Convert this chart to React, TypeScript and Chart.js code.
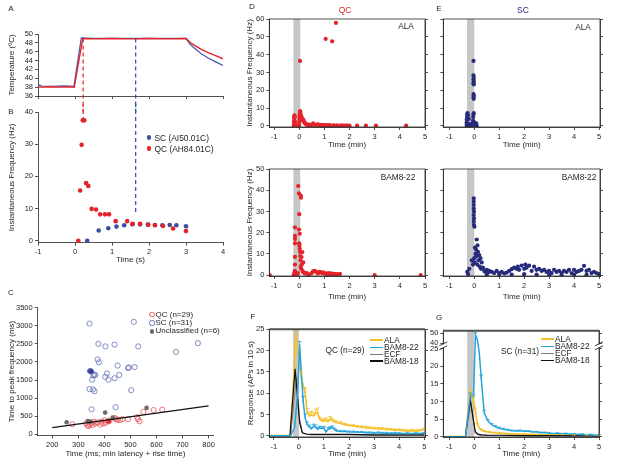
import React, { useEffect, useRef } from 'react';
import { Chart, registerables, LinearScale } from 'chart.js';

Chart.register(...registerables);

const FONT = "'Liberation Sans', Arial, Helvetica, sans-serif";
const INK = '#262626';
const RED = '#e4232b';
const NAVY = '#272b7b';
const BBLUE = '#3a4fa0';
const YEL = '#f3c12c';
const LBLUE = '#27a4dc';
const ECFG = '#7a7a7a';
const BLK = '#111111';
const BAND = '#c6c6c6';

type Pt = [number, number];

// ---------------- Panel A: temperature ----------------
const tempTimeRed = [-1, -0.7, -0.4, -0.1, -0.02, 0.21, 0.5, 1.0, 1.5, 2.0, 2.5, 3.0, 3.1, 3.2, 3.4, 3.6, 3.8, 4.0];
const tempRed = [38.0, 38.1, 38.0, 38.1, 38.0, 49.0, 48.9, 49.0, 48.9, 49.0, 48.9, 49.0, 48.2, 47.6, 46.6, 45.8, 45.1, 44.4];
const tempTimeBlue = [-1, -0.95, -0.9, -0.6, -0.3, -0.03, 0.17, 0.5, 1.0, 1.5, 2.0, 2.5, 3.0, 3.1, 3.2, 3.4, 3.6, 3.8, 4.0];
const tempBlue = [38.2, 38.5, 38.2, 38.2, 38.3, 38.2, 49.1, 49.0, 49.0, 49.0, 49.0, 49.0, 49.0, 47.8, 47.0, 45.6, 44.6, 43.7, 42.9];
const qcPeakTime = 0.22;
const scPeakTime = 1.64;
const dashTempLevels = [49, 32.4];

// ---------------- Panel B: instantaneous frequency ----------------
const bQC: Pt[] = [
  [0.09, 0], [0.14, 15.6], [0.18, 29.8], [0.21, 37.4], [0.25, 37.4], [0.3, 17.9], [0.36, 17.0],
  [0.45, 9.9], [0.57, 9.7], [0.68, 8.2], [0.81, 8.2], [0.92, 8.2], [1.1, 6.1], [1.41, 6.1],
  [1.56, 5.3], [1.76, 5.3], [1.98, 5.0], [2.16, 4.8], [2.38, 4.6], [2.65, 3.8], [3.0, 3.0],
];
const bSC: Pt[] = [
  [0.33, 0], [0.64, 3.2], [0.9, 3.9], [1.12, 4.4], [1.33, 4.8], [1.55, 5.1], [1.76, 5.1],
  [1.97, 5.0], [2.16, 4.9], [2.36, 4.8], [2.56, 4.9], [2.74, 4.8], [3.0, 4.5],
];
const dashQCFreq = [45, 37.4];
const dashSCFreq = [45, 8];

// ---------------- Panel C: time to peak ----------------
const cQC: Pt[] = [
  [277, 280], [330, 300], [335, 250], [340, 230], [345, 280], [350, 320], [355, 260], [360, 350],
  [365, 300], [375, 330], [385, 270], [390, 350], [395, 300], [405, 320], [416, 360], [420, 380],
  [445, 420], [450, 400], [460, 390], [470, 420], [491, 420], [526, 470], [529, 420], [535, 360],
  [550, 620], [589, 670], [622, 680], [440, 450], [400, 390],
];
const cQCFilled = [14];
const cSC: Pt[] = [
  [343, 3060], [513, 3110], [377, 2500], [404, 2430], [439, 2480], [530, 2430], [759, 2520], [675, 2280],
  [374, 2070], [379, 1990], [345, 1750], [361, 1650], [357, 1630], [353, 1510], [403, 1590], [410, 1680],
  [416, 1510], [439, 1550], [457, 1640], [451, 1900], [491, 1830], [494, 1850], [516, 1860], [343, 1250],
  [356, 1240], [362, 1190], [503, 1220], [351, 690], [443, 750], [349, 1740], [365, 1640],
];
const cSCFilled = [10, 29];
const cUnclassified: Pt[] = [[255, 335], [336, 370], [403, 600], [432, 460], [562, 730], [345, 350]];
const cFitLine: Pt[] = [[200, 185], [800, 787]];

// ---------------- Panel D: QC instantaneous frequency ----------------
const dAlaQC: Pt[] = [
  [-0.22, 0], [-0.21, 1.2], [-0.21, 2.6], [-0.2, 4], [-0.2, 5.3], [-0.19, 6], [-0.18, 4.8], [-0.17, 2.5],
  [-0.16, 1], [-0.14, 0.3], [-0.12, 0], [0, 0.5], [0, 2], [0.01, 3.5], [0.01, 5], [0.02, 6.5], [0.03, 7.8],
  [0.04, 8.3], [0.05, 7.2], [0.06, 6], [0.08, 5.5], [0.1, 4.6], [0.12, 3.8], [0.14, 3.2], [0.16, 3.5],
  [0.18, 2.6], [0.2, 2], [0.22, 1.6], [0.25, 1.3], [0.28, 1], [0.3, 0.7], [0.35, 0.5], [0.4, 0.8],
  [0.45, 0.4], [0.5, 0.5], [0.55, 1.4], [0.6, 0.8], [0.65, 0.5], [0.7, 0.7], [0.75, 0.9], [0.8, 0.5],
  [0.85, 0.3], [0.9, 0.6], [0.95, 0.3], [1.0, 0.5], [1.1, 0.4], [1.15, 0.2], [1.2, 0.4], [1.25, 0.2],
  [1.35, 0.3], [1.4, 0.2], [1.5, 0.3], [1.6, 0.2], [1.7, 0.3], [1.8, 0.2], [1.9, 0.3], [2.0, 0.2],
  [2.3, 0.2], [2.65, 0.2], [3.05, 0.2], [4.25, 0.2], [0.03, 36.5], [1.05, 48.8], [1.31, 47.5], [1.46, 57.8],
];
const dBamQC: Pt[] = [
  [-1.17, 0], [-0.22, 0], [-0.2, 0.5], [-0.19, 1], [-0.18, 2], [-0.17, 5], [-0.17, 8.6], [-0.17, 15],
  [-0.17, 17], [-0.17, 18.5], [-0.17, 22.5], [-0.16, 1.5], [-0.15, 0.5], [-0.1, 0.5], [-0.05, 1],
  [-0.04, 42], [-0.01, 38.5], [0.06, 37.5], [0.07, 36.5], [0, 28.7], [-0.01, 21.5], [0.02, 19.5], [0, 15],
  [0.01, 14], [0.02, 12.5], [0.03, 11], [0.12, 10.8], [0.04, 9], [0.09, 8.5], [0.05, 7], [0.16, 6],
  [0.1, 5], [0.06, 4], [0.08, 3], [0.13, 2], [0.15, 1.5], [0.2, 1], [0.25, 0.8], [0.3, 1], [0.35, 0.5],
  [0.4, 0.3], [0.5, 1], [0.55, 1.8], [0.6, 2], [0.65, 1.8], [0.7, 1.2], [0.75, 0.8], [0.8, 1.6],
  [0.85, 1.4], [0.9, 1], [0.95, 1.3], [1.0, 0.8], [1.05, 0.6], [1.1, 0.8], [1.15, 0.5], [1.2, 1],
  [1.25, 0.6], [1.3, 0.7], [1.35, 0.5], [1.4, 0.6], [1.45, 0.4], [1.5, 0.5], [1.55, 0.3], [1.62, 0.6],
  [3.0, 0], [4.83, 0],
];

// ---------------- Panel E: SC instantaneous frequency ----------------
const eAlaSC: Pt[] = [
  [-0.3, 0], [-0.3, 1], [-0.3, 2], [-0.3, 3.5], [-0.29, 5], [-0.28, 6.5], [-0.27, 7.2], [-0.25, 6],
  [-0.22, 4], [-0.2, 1], [-0.18, 0], [-0.15, 0.5], [-0.1, 0], [-0.07, 1.5], [-0.05, 3], [-0.04, 5],
  [-0.03, 6.5], [-0.02, 7.2], [-0.03, 36.5], [-0.03, 28.4], [-0.02, 27], [-0.03, 26], [-0.02, 25],
  [-0.03, 24], [-0.02, 23.3], [-0.03, 17.9], [-0.02, 17], [-0.03, 16], [-0.02, 15.2], [0, 2], [0.02, 1],
  [0.05, 0.5], [0.08, 1.5], [0.1, 0],
];
const eBamSC: Pt[] = [
  [-0.02, 36.2], [-0.02, 34.6], [-0.02, 33], [-0.02, 31.4], [-0.01, 29.9], [-0.02, 28.3], [-0.01, 26.7],
  [-0.02, 25.2], [-0.01, 23.6], [0.01, 22.8], [0.1, 16.8], [0.13, 14], [0.07, 12], [0.03, 13], [0.15, 11],
  [0.2, 9.5], [0.05, 10], [0.1, 9], [0, 8], [0.02, 6], [-0.05, 5], [-0.1, 7], [-0.2, 3], [-0.28, 1.5],
  [-0.25, 0.5], [0.25, 8], [0.3, 6], [0.17, 7], [0.12, 5], [0.22, 4], [0.27, 3], [0.35, 3.5], [0.4, 2],
  [0.45, 1.5], [0.5, 2.5], [0.55, 1.2], [0.6, 2], [0.7, 1.5], [0.8, 1], [0.9, 2], [1.0, 1], [1.1, 1.5],
  [1.2, 0.8], [1.3, 1.2], [1.4, 2], [1.5, 2.8], [1.6, 3.5], [1.7, 3], [1.75, 4], [1.8, 2.5], [1.9, 4.5],
  [2.0, 3], [2.05, 5], [2.1, 3.5], [2.2, 4.5], [2.3, 2], [2.4, 4], [2.5, 2.5], [2.6, 3], [2.7, 2],
  [2.8, 2.5], [2.9, 1.5], [3.0, 2], [3.1, 1], [3.2, 2.5], [3.3, 1.5], [3.4, 2], [3.5, 1], [3.6, 2],
  [3.7, 1.5], [3.8, 2.5], [3.9, 1], [4.0, 2.5], [4.1, 1.5], [4.2, 2], [4.3, 2.5], [4.4, 4.4], [4.5, 2],
  [4.6, 2.5], [4.7, 1], [4.8, 1.5], [4.9, 1], [5.0, 0.5], [0.5, 0], [1.0, 0.2], [1.5, 0.3], [2.0, 0.5],
  [2.5, 0.3], [3.0, 0.2], [3.5, 0.2], [4.0, 0.3], [4.5, 0.2],
];

// ---------------- Panel F: QC responses (APs in 10 s) ----------------
const fAlaT = [-1.18, -0.33, -0.12, 0.08, 0.25, 0.33, 0.42, 0.5, 0.58, 0.67, 0.75, 0.83, 0.92, 1.0, 1.08, 1.17, 1.25, 1.33, 1.42, 1.5, 1.67, 1.83, 2, 2.17, 2.33, 2.5, 2.67, 2.83, 3, 3.17, 3.33, 3.5, 3.67, 3.83, 4, 4.17, 4.33, 4.5, 4.67, 4.83, 5];
const fAla = [0, 0, 24, 14, 10, 5.5, 4.6, 4.9, 4.7, 5.3, 5.4, 3.8, 3.5, 3.4, 3.6, 3.3, 3.9, 3.6, 3.2, 3.1, 2.9, 2.6, 2.4, 2.3, 2.1, 2.0, 1.9, 1.8, 1.7, 1.6, 1.6, 1.5, 1.4, 1.3, 1.3, 1.2, 1.1, 1.2, 1.1, 1.2, 1.5];
const fAlaErr = [0, 0, 0.6, 1, 1.3, 0.9, 0.8, 0.8, 0.8, 0.9, 1.1, 0.6, 0.5, 0.5, 0.6, 0.5, 0.6, 0.5, 0.4, 0.4, 0.4, 0.3, 0.3, 0.3, 0.3, 0.3, 0.3, 0.3, 0.3, 0.3, 0.3, 0.3, 0.3, 0.3, 0.3, 0.3, 0.3, 0.3, 0.3, 0.3, 0.3];
const fBamT = [-1.18, -0.33, -0.17, -0.05, 0.03, 0.17, 0.25, 0.33, 0.42, 0.5, 0.58, 0.67, 0.75, 0.83, 0.92, 1.0, 1.08, 1.17, 1.25, 1.33, 1.42, 1.5, 1.67, 1.83, 2, 2.17, 2.33, 2.5, 2.67, 2.83, 3, 3.17, 3.33, 3.5, 3.67, 3.83, 4, 4.33, 4.67, 5];
const fBam = [0, 0, 2, 10, 21.5, 8, 4.2, 2.6, 2.0, 1.6, 2.2, 2.0, 1.5, 1.8, 1.7, 1.8, 0.9, 1.5, 1.7, 1.9, 1.5, 1.1, 1.0, 1.0, 0.9, 0.9, 0.8, 0.8, 0.7, 0.7, 0.6, 0.7, 0.6, 0.6, 0.5, 0.6, 0.5, 0.5, 0.5, 0.6];
const fBamErr = [0, 0, 0, 0, 0.6, 1.2, 0.9, 0.6, 0.5, 0.4, 0.5, 0.5, 0.4, 0.4, 0.4, 0.4, 0.3, 0.4, 0.4, 0.4, 0.3, 0.3, 0.2, 0.2, 0.2, 0.2, 0.2, 0.2, 0.2, 0.2, 0.2, 0.2, 0.2, 0.2, 0.2, 0.2, 0.2, 0.2, 0.2, 0.2];
const fEcfT = [-1.18, -0.33, -0.1, 0.03, 0.14, 0.3, 0.5, 1, 2, 3, 4, 5];
const fEcf = [0, 0, 13.7, 4, 0.6, 0.3, 0.2, 0.2, 0.2, 0.1, 0.1, 0.1];
const fB18T = [-1.18, -0.36, -0.15, 0.03, 0.14, 0.3, 0.5, 1, 2, 3, 4, 5];
const fB18 = [0, 0, 15.7, 3, 0.7, 0.4, 0.3, 0.3, 0.3, 0.2, 0.2, 0.2];

// ---------------- Panel G: SC responses ----------------
const gBamT = [-1.24, -0.35, -0.16, -0.03, 0.05, 0.13, 0.2, 0.28, 0.4, 0.55, 0.7, 0.85, 1.0, 1.17, 1.33, 1.5, 1.67, 1.83, 2, 2.17, 2.33, 2.5, 2.67, 2.83, 3, 3.33, 3.67, 4, 4.33, 4.67, 5];
const gBam = [0, 0, 11.6, 11.2, 48.5, 43, 24, 16.6, 6.8, 4.4, 3.4, 2.8, 2.4, 2.1, 1.9, 1.7, 1.6, 1.7, 1.5, 1.5, 1.3, 1.3, 1.1, 1.1, 1.0, 0.9, 0.8, 0.7, 0.6, 0.5, 0.4];
const gBamErr = [0, 0, 0.8, 0.6, 2, 0, 0, 0.9, 0.7, 0.4, 0.3, 0.3, 0.3, 0.3, 0.2, 0.2, 0.2, 0.2, 0.2, 0.2, 0.2, 0.2, 0.2, 0.2, 0.2, 0.2, 0.2, 0.2, 0.2, 0.2, 0.2];
const gAlaT = [-1.24, -0.35, -0.16, -0.05, 0.04, 0.13, 0.25, 0.4, 0.6, 0.8, 1, 1.5, 2, 2.5, 3, 3.5, 4, 4.5, 5];
const gAla = [0, 0, 12.8, 10.9, 7.6, 3.3, 2.0, 1.5, 1.3, 1.1, 1.0, 0.8, 0.7, 0.6, 0.5, 0.5, 0.4, 0.4, 0.3];
const gAlaErr = [0, 0, 0.8, 0.6, 0.5, 0.4, 0.3, 0.2, 0.2, 0.2, 0.2, 0.1, 0.1, 0.1, 0.1, 0.1, 0.1, 0.1, 0.1];
const gEcfT = [-1.24, -0.35, -0.14, 0.04, 0.15, 0.3, 0.6, 1, 2, 3, 4, 5];
const gEcf = [0, 0, 9.9, 1.0, 0.5, 0.4, 0.3, 0.3, 0.2, 0.2, 0.2, 0.2];
const gB18T = [-1.24, -0.35, -0.16, 0.04, 0.15, 0.3, 0.6, 1, 2, 3, 4, 5];
const gB18 = [0, 0, 10.4, 1.5, 0.7, 0.5, 0.4, 0.4, 0.3, 0.3, 0.2, 0.2];

// tick values
const ticksA_x = [-1, 0, 1, 2, 3, 4];
const ticksA_y = [36, 38, 40, 42, 44, 46, 48, 50];
const ticksB_y = [0, 10, 20, 30, 40];
const ticksC_x = [200, 300, 400, 500, 600, 700, 800];
const ticksC_y = [0, 500, 1000, 1500, 2000, 2500, 3000, 3500];
const ticksMin = [-1, 0, 1, 2, 3, 4, 5];
const ticks60 = [0, 10, 20, 30, 40, 50, 60];
const ticks50 = [0, 10, 20, 30, 40, 50];
const ticks25 = [0, 5, 10, 15, 20, 25];
const ticksG_y = [0, 5, 10, 15, 20, 25, 40, 50];
const gBreakLow = 25;
const gBreakHigh = 40;

const toXY = (arr: Pt[]) => arr.map(([x, y]) => ({ x, y }));
const zipXY = (xs: number[], ys: number[]) => xs.map((x, i) => ({ x, y: ys[i] }));

// ---------- broken y scale (panel G) ----------
class BrokenLinearScale extends LinearScale {
  getPixelForValue(value: number) {
    const min = (this as any).min as number;
    const max = (this as any).max as number;
    const d1 = 0.8307;
    const d2 = 0.8815;
    let d: number;
    if (value <= gBreakLow) d = ((value - min) / (gBreakLow - min)) * d1;
    else if (value >= gBreakHigh) d = d2 + ((value - gBreakHigh) / (max - gBreakHigh)) * (1 - d2);
    else d = d1 + ((value - gBreakLow) / (gBreakHigh - gBreakLow)) * (d2 - d1);
    return (this as any).getPixelForDecimal(d);
  }
}
(BrokenLinearScale as any).id = 'brokenLinear';
(BrokenLinearScale as any).defaults = (LinearScale as any).defaults;
Chart.register(BrokenLinearScale as any);

// ---------- plugins ----------
const bandPlugin = {
  id: 'band',
  beforeDatasetsDraw(chart: any, _a: any, opts: any) {
    if (!opts || opts.from === undefined) return;
    const { ctx, chartArea, scales } = chart;
    const x0 = scales.x.getPixelForValue(opts.from);
    const x1 = scales.x.getPixelForValue(opts.to);
    ctx.save();
    ctx.fillStyle = BAND;
    ctx.fillRect(x0, chartArea.top, x1 - x0, chartArea.bottom - chartArea.top);
    ctx.restore();
  },
};
const errPlugin = {
  id: 'errbars',
  afterDatasetsDraw(chart: any) {
    const ctx = chart.ctx;
    chart.data.datasets.forEach((ds: any, di: number) => {
      if (!ds.errs) return;
      const meta = chart.getDatasetMeta(di);
      const xs = chart.scales[meta.xAxisID];
      const ys = chart.scales[meta.yAxisID];
      ctx.save();
      ctx.strokeStyle = ds.borderColor;
      ctx.lineWidth = 0.9;
      ds.data.forEach((p: any, i: number) => {
        const e = ds.errs[i];
        if (!e) return;
        const px = xs.getPixelForValue(p.x);
        const y0 = ys.getPixelForValue(p.y);
        const y1 = ys.getPixelForValue(p.y + e);
        ctx.beginPath();
        ctx.moveTo(px, y0);
        ctx.lineTo(px, y1);
        ctx.moveTo(px - 1.8, y1);
        ctx.lineTo(px + 1.8, y1);
        ctx.stroke();
      });
      ctx.restore();
    });
  },
};
const framePlugin = {
  id: 'frame',
  afterDraw(chart: any, _a: any, opts: any) {
    if (!opts || !opts.on) return;
    const { ctx, chartArea: c } = chart;
    ctx.save();
    ctx.strokeStyle = INK;
    ctx.lineWidth = 0.8;
    ctx.strokeRect(c.left, c.top, c.right - c.left, c.bottom - c.top);
    if (opts.topWidth) {
      ctx.lineWidth = opts.topWidth;
      ctx.strokeStyle = opts.topColor || INK;
      ctx.beginPath();
      ctx.moveTo(c.left, c.top);
      ctx.lineTo(c.right, c.top);
      ctx.stroke();
    }
    if (opts.breakAxis) {
      const ys = chart.scales.y;
      const yA = ys.getPixelForValue(gBreakLow);
      const yB = ys.getPixelForValue(gBreakHigh);
      const ym = (yA + yB) / 2;
      [c.left, c.right].forEach((x: number) => {
        ctx.fillStyle = '#ffffff';
        ctx.fillRect(x - 3, ym - 1.6, 6, 3.2);
        ctx.strokeStyle = INK;
        ctx.lineWidth = 0.9;
        ctx.beginPath();
        ctx.moveTo(x - 4, ym - 0.2);
        ctx.lineTo(x + 4, ym - 4.2);
        ctx.moveTo(x - 4, ym + 3.8);
        ctx.lineTo(x + 4, ym - 0.2);
        ctx.stroke();
      });
    }
    ctx.restore();
  },
};

// ---------- axis helper ----------
interface AxisSpec {
  min: number;
  max: number;
  ticks: number[];
  size: number;
  labels?: boolean;
  title?: string;
  titlePad?: number;
  type?: string;
}
function axis(pos: 'left' | 'bottom' | 'right', s: AxisSpec) {
  const horizontal = pos === 'bottom';
  return {
    type: s.type || 'linear',
    position: pos,
    min: s.min,
    max: s.max,
    afterBuildTicks: (sc: any) => {
      sc.ticks = s.ticks.map((v) => ({ value: v }));
    },
    afterFit: (sc: any) => {
      if (horizontal) sc.height = s.size;
      else sc.width = s.size;
    },
    ticks: {
      display: s.labels !== false,
      autoSkip: false,
      maxRotation: 0,
      minRotation: 0,
      padding: 2,
      color: INK,
      font: { family: FONT, size: 7.5 },
      callback: (v: any) => String(v),
    },
    grid: { display: true, drawOnChartArea: false, drawTicks: true, tickLength: 3, tickWidth: 0.8, color: INK },
    border: { display: true, color: INK, width: 0.8 },
    title: {
      display: !!s.title,
      text: s.title || '',
      color: INK,
      font: { family: FONT, size: 8 },
      padding: horizontal ? { top: 0, bottom: s.titlePad ?? 0 } : { top: s.titlePad ?? 0, bottom: 0 },
    },
  };
}

interface Box { L: number; T: number; W: number; H: number }
interface Area { a: number; b: number; c: number; d: number }

function baseConfig(box: Box, area: Area, rightW: number, scales: any, datasets: any[], pluginOpts: any) {
  return {
    type: 'scatter' as const,
    data: { datasets },
    options: {
      animation: false,
      responsive: false,
      maintainAspectRatio: false,
      events: [],
      layout: {
        padding: { left: 0, top: area.b - box.T, right: box.L + box.W - area.c - rightW, bottom: 0 },
      },
      scales,
      plugins: { legend: { display: false }, tooltip: { enabled: false }, ...pluginOpts },
    },
    plugins: [bandPlugin, errPlugin, framePlugin],
  };
}

const pts = (data: any, color: string, r = 2) => ({
  data,
  showLine: false,
  pointRadius: r,
  backgroundColor: color,
  borderColor: color,
  borderWidth: 0,
});
const line = (data: any, color: string, w: number, extra: any = {}) => ({
  data,
  showLine: true,
  pointRadius: 0,
  borderColor: color,
  backgroundColor: color,
  borderWidth: w,
  fill: false,
  tension: 0,
  ...extra,
});

// ---------- panels ----------
function cfgA() {
  const box = { L: 0, T: 26, W: 232, H: 86 };
  const area = { a: 38, b: 34, c: 223, d: 96 };
  return baseConfig(box, area, 0, {
    x: axis('bottom', { min: -1, max: 4, ticks: ticksA_x, size: box.T + box.H - area.d, labels: false }),
    y: axis('left', { min: 36, max: 50, ticks: ticksA_y, size: area.a - box.L, title: 'Temperature (ºC)', titlePad: 7.2 }),
  }, [
    line(dashTempLevels.map((y) => ({ x: qcPeakTime, y })), RED, 1.2, { borderDash: [4, 3], clip: false }),
    line(dashTempLevels.map((y) => ({ x: scPeakTime, y })), '#2c4a9a', 1.2, { borderDash: [4, 3], clip: false }),
    line(zipXY(tempTimeRed, tempRed), RED, 1.4),
    line(zipXY(tempTimeBlue, tempBlue), '#4459a8', 1.2),
  ], {});
}

function cfgB() {
  const box = { L: 0, T: 104, W: 232, H: 166 };
  const area = { a: 38, b: 112, c: 223, d: 242.7 };
  return baseConfig(box, area, 0, {
    x: axis('bottom', { min: -1, max: 4, ticks: ticksA_x, size: box.T + box.H - area.d, title: 'Time (s)', titlePad: 5.2 }),
    y: axis('left', { min: -0.6, max: 40, ticks: ticksB_y, size: area.a - box.L, title: 'Instantaneous Frequency (Hz)', titlePad: 7.2 }),
  }, [
    line(dashQCFreq.map((y) => ({ x: qcPeakTime, y })), RED, 1.2, { borderDash: [4, 3], clip: false }),
    line(dashSCFreq.map((y) => ({ x: scPeakTime, y })), '#2c4a9a', 1.2, { borderDash: [4, 3], clip: false }),
    pts(toXY(bQC), RED, 2.3),
    pts(toXY(bSC), BBLUE, 2.3),
  ], {});
}

function cfgC() {
  const box = { L: 0, T: 300, W: 230, H: 162 };
  const area = { a: 37.7, b: 307.7, c: 213, d: 435.4 };
  const openC = (arr: Pt[], color: string, filledIdx: number[], fill: string) => ({
    data: toXY(arr),
    showLine: false,
    pointRadius: 2.6,
    pointBorderWidth: 0.8,
    pointBorderColor: color,
    pointBackgroundColor: arr.map((_, i) => (filledIdx.includes(i) ? fill : 'rgba(255,255,255,0)')),
    borderColor: color,
  });
  return baseConfig(box, area, 0, {
    x: axis('bottom', { min: 144, max: 817, ticks: ticksC_x, size: box.T + box.H - area.d, title: 'Time (ms; min latency + rise time)', titlePad: 3.2 }),
    y: axis('left', { min: -30, max: 3500, ticks: ticksC_y, size: area.a - box.L, title: 'Time to peak frequency (ms)', titlePad: 7.2 }),
  }, [
    line(toXY(cFitLine), BLK, 1.3),
    pts(toXY(cUnclassified), '#6b6b6b', 2.3),
    openC(cQC, '#e8545a', cQCFilled, RED),
    openC(cSC, '#6170b5', cSCFilled, '#2b3a8f'),
  ], {});
}

function cfgFreq(box: Box, area: Area, xr: [number, number], yr: [number, number], yt: number[], labels: boolean, data: Pt[], color: string, band: [number, number]) {
  return baseConfig(box, area, 4, {
    x: axis('bottom', { min: xr[0], max: xr[1], ticks: ticksMin, size: box.T + box.H - area.d, title: 'Time (min)', titlePad: area.d > 200 ? 0.5 : 0 }),
    y: axis('left', { min: yr[0], max: yr[1], ticks: yt, size: area.a - box.L, labels, title: labels ? 'Instantaneous Frequency (Hz)' : undefined, titlePad: 5.2 }),
    y2: { ...axis('right', { min: yr[0], max: yr[1], ticks: yt, size: 4, labels: false }) },
  }, [pts(toXY(data), color, 2.1)], { band: { from: band[0], to: band[1] }, frame: { on: true } });
}

function cfgResp(box: Box, area: Area, xr: [number, number], yr: [number, number], yt: number[], labels: boolean, yType: string, series: any[], band: [number, number], breakAxis: boolean) {
  return baseConfig(box, area, 4, {
    x: axis('bottom', { min: xr[0], max: xr[1], ticks: ticksMin, size: box.T + box.H - area.d, title: 'Time (min)', titlePad: 3.2 }),
    y: axis('left', { type: yType, min: yr[0], max: yr[1], ticks: yt, size: area.a - box.L, labels, title: labels && !breakAxis ? 'Response (APs in 10 s)' : undefined, titlePad: 5.8 }),
    y2: axis('right', { type: yType, min: yr[0], max: yr[1], ticks: yt, size: 4, labels: false }),
  }, series, { band: { from: band[0], to: band[1] }, frame: { on: true, topWidth: 2, topColor: '#555', breakAxis } });
}

function respSeries(bam: any, bamErr: number[], b18: any, ecf: any, ala: any, alaErr: number[]) {
  return [
    { ...line(bam, LBLUE, 1.5), errs: bamErr },
    line(b18, BLK, 1.2),
    line(ecf, ECFG, 1.0),
    { ...line(ala, YEL, 1.7), errs: alaErr },
  ];
}

function ChartBox({ box, build }: { box: Box; build: () => any }) {
  const ref = useRef<HTMLCanvasElement>(null);
  useEffect(() => {
    const chart = new Chart(ref.current as HTMLCanvasElement, build());
    return () => chart.destroy();
  }, []);
  return (
    <canvas
      ref={ref}
      width={box.W}
      height={box.H}
      style={{ position: 'absolute', left: box.L, top: box.T, width: box.W, height: box.H }}
    />
  );
}

function Txt({ x, y, t, size = 8, color = INK, align = 'center' }: { x: number; y: number; t: string; size?: number; color?: string; align?: 'left' | 'center' | 'right' }) {
  const tx = align === 'left' ? '0' : align === 'right' ? '-100%' : '-50%';
  return (
    <div
      style={{
        position: 'absolute', left: x, top: y, transform: `translate(${tx}, -50%)`,
        fontFamily: FONT, fontSize: size, color, whiteSpace: 'nowrap', lineHeight: 1,
      }}
    >
      {t}
    </div>
  );
}

function Dot({ x, y, color, open = false, r = 2.4 }: { x: number; y: number; color: string; open?: boolean; r?: number }) {
  return (
    <div
      style={{
        position: 'absolute', left: x - r, top: y - r, width: r * 2, height: r * 2, borderRadius: '50%',
        boxSizing: 'border-box', background: open ? 'transparent' : color, border: open ? `0.8px solid ${color}` : 'none',
      }}
    />
  );
}

function Swatch({ x, y, color, w }: { x: number; y: number; color: string; w: number }) {
  return <div style={{ position: 'absolute', left: x, top: y - w / 2, width: 13, height: w, background: color }} />;
}

const boxDTop = { L: 240, T: 12, W: 192, H: 138 };
const areaDTop = { a: 269.3, b: 19, c: 425, d: 127 };
const boxDBot = { L: 240, T: 162, W: 192, H: 140 };
const areaDBot = { a: 269.3, b: 169, c: 425, d: 276 };
const boxETop = { L: 430, T: 12, W: 187, H: 138 };
const areaETop = { a: 443.3, b: 19, c: 600, d: 127 };
const boxEBot = { L: 430, T: 162, W: 187, H: 140 };
const areaEBot = { a: 443.3, b: 169, c: 600, d: 276 };
const boxF = { L: 240, T: 322, W: 192, H: 140 };
const areaF = { a: 269.3, b: 329.3, c: 425, d: 437 };
const boxG = { L: 420, T: 322, W: 197, H: 140 };
const areaG = { a: 443.3, b: 330.7, c: 599, d: 437 };

export default function App() {
  useEffect(() => {
    document.body.style.margin = '0';
  }, []);
  const legendF = (x0: number, ys: number[]) => (
    <>
      <Swatch x={x0} y={ys[0]} color={YEL} w={1.8} />
      <Swatch x={x0} y={ys[1]} color={LBLUE} w={1.6} />
      <Swatch x={x0} y={ys[2]} color={ECFG} w={1} />
      <Swatch x={x0} y={ys[3]} color={BLK} w={1.3} />
      <Txt x={x0 + 14} y={ys[0]} t="ALA" align="left" size={8.3} />
      <Txt x={x0 + 14} y={ys[1]} t="BAM8-22" align="left" size={8.3} />
      <Txt x={x0 + 14} y={ys[2]} t="ECF" align="left" size={8.3} />
      <Txt x={x0 + 14} y={ys[3]} t="BAM8-18" align="left" size={8.3} />
    </>
  );
  return (
    <div style={{ position: 'relative', width: 617, height: 462, background: '#fff', overflow: 'hidden' }}>
      <ChartBox box={{ L: 0, T: 26, W: 232, H: 86 }} build={cfgA} />
      <ChartBox box={{ L: 0, T: 104, W: 232, H: 166 }} build={cfgB} />
      <ChartBox box={{ L: 0, T: 300, W: 230, H: 162 }} build={cfgC} />
      <ChartBox box={boxDTop} build={() => cfgFreq(boxDTop, areaDTop, [-1.19, 5], [-0.6, 60], ticks60, true, dAlaQC, RED, [-0.23, 0.04])} />
      <ChartBox box={boxDBot} build={() => cfgFreq(boxDBot, areaDBot, [-1.19, 5], [-0.4, 50], ticks50, true, dBamQC, RED, [-0.23, 0.04])} />
      <ChartBox box={boxETop} build={() => cfgFreq(boxETop, areaETop, [-1.24, 5.04], [-0.6, 60], ticks60, false, eAlaSC, NAVY, [-0.29, 0])} />
      <ChartBox box={boxEBot} build={() => cfgFreq(boxEBot, areaEBot, [-1.24, 5.04], [-0.4, 50], ticks50, false, eBamSC, NAVY, [-0.29, 0])} />
      <ChartBox
        box={boxF}
        build={() => cfgResp(boxF, areaF, [-1.18, 5.03], [-0.3, 25], ticks25, true, 'linear',
          respSeries(zipXY(fBamT, fBam), fBamErr, zipXY(fB18T, fB18), zipXY(fEcfT, fEcf), zipXY(fAlaT, fAla), fAlaErr), [-0.23, 0], false)}
      />
      <ChartBox
        box={boxG}
        build={() => cfgResp(boxG, areaG, [-1.24, 5.0], [-0.1, 52.6], ticksG_y, true, 'brokenLinear',
          respSeries(zipXY(gBamT, gBam), gBamErr, zipXY(gB18T, gB18), zipXY(gEcfT, gEcf), zipXY(gAlaT, gAla), gAlaErr), [-0.28, 0], true)}
      />

      {/* panel letters */}
      <Txt x={11} y={9} t="A" />
      <Txt x={11} y={112} t="B" />
      <Txt x={11} y={293} t="C" />
      <Txt x={252} y={7} t="D" />
      <Txt x={439} y={9} t="E" />
      <Txt x={253} y={317} t="F" />
      <Txt x={439} y={318} t="G" />

      {/* titles */}
      <Txt x={345} y={10} t="QC" color={RED} size={8.5} />
      <Txt x={523} y={10} t="SC" color={NAVY} size={8.5} />
      <Txt x={406} y={26} t="ALA" size={8.3} />
      <Txt x={583} y={27} t="ALA" size={8.3} />
      <Txt x={398} y={177} t="BAM8-22" size={8.3} />
      <Txt x={579} y={177} t="BAM8-22" size={8.3} />

      {/* B legend */}
      <Dot x={149} y={137.5} color={BBLUE} />
      <Txt x={154.5} y={137.5} t="SC (AI50.01C)" align="left" size={8.4} />
      <Dot x={149} y={148.5} color={RED} />
      <Txt x={154.5} y={148.5} t="QC (AH84.01C)" align="left" size={8.4} />

      {/* C legend */}
      <Dot x={152} y={314.7} color="#e8545a" open r={2.6} />
      <Txt x={155.5} y={314.7} t="QC (n=29)" align="left" size={8} />
      <Dot x={152} y={323} color="#6170b5" open r={2.6} />
      <Txt x={155.5} y={323} t="SC (n=31)" align="left" size={8} />
      <Dot x={152} y={331.3} color="#6b6b6b" r={2.3} />
      <Txt x={155.5} y={331.3} t="Unclassified (n=6)" align="left" size={8} />

      {/* F legend */}
      {legendF(370, [340, 347.3, 354.3, 361])}
      <Txt x={345} y={350.3} t="QC (n=29)" size={8.3} />
      {/* G legend */}
      {legendF(541, [338.7, 346.3, 353.3, 360.3])}
      <Txt x={520} y={350.7} t="SC (n=31)" size={8.3} />
    </div>
  );
}
